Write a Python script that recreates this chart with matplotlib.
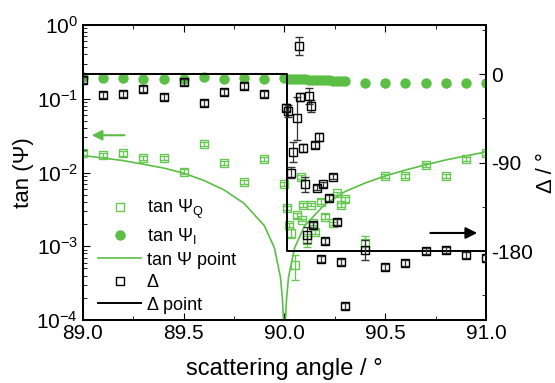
import numpy as np
import matplotlib.pyplot as plt
from matplotlib.ticker import MultipleLocator, FixedLocator, LogLocator, NullFormatter
from matplotlib.lines import Line2D

plt.rcParams['font.family'] = ['Liberation Sans', 'DejaVu Sans']
plt.rcParams['mathtext.fontset'] = 'custom'
plt.rcParams['mathtext.rm'] = 'Liberation Sans'
plt.rcParams['mathtext.it'] = 'Liberation Sans:italic'

GREEN = "#5CBF45"
GREEN_Q = "#66C852"

# tan Psi_I (filled circles, left axis)
psi_i_x = [89.0, 89.1, 89.2, 89.3, 89.4, 89.5, 89.6, 89.7, 89.8, 89.9,
           90.0, 90.02, 90.04, 90.06, 90.08, 90.10, 90.12, 90.14, 90.16, 90.18,
           90.20, 90.22, 90.24, 90.26, 90.28, 90.30,
           90.4, 90.5, 90.6, 90.7, 90.8, 90.9, 91.0]
psi_i_y = [0.197, 0.192, 0.190, 0.188, 0.186, 0.188, 0.200, 0.186, 0.190, 0.188,
           0.190, 0.188, 0.186, 0.185, 0.184, 0.183, 0.182, 0.181, 0.180, 0.179,
           0.178, 0.177, 0.176, 0.175, 0.174, 0.172,
           0.165, 0.164, 0.164, 0.164, 0.164, 0.164, 0.164]

# tan Psi_Q (open squares, left axis)
psi_q_x = [89.0, 89.1, 89.2, 89.3, 89.4, 89.5, 89.6, 89.7, 89.8, 89.9,
           90.00, 90.08, 90.26, 90.30, 90.28, 90.13, 90.18, 90.20, 90.24, 90.01,
           90.06, 90.09, 90.02, 90.03, 90.085, 90.11, 90.15, 90.14, 90.05,
           90.4, 90.5, 90.6, 90.7, 90.8, 90.9, 91.0]
psi_q_y = [0.0185, 0.0173, 0.0182, 0.0156, 0.0156, 0.0103, 0.0243, 0.0136, 0.0075, 0.0152,
           0.00698, 0.00869, 0.00522, 0.00433, 0.00362, 0.00368, 0.00402, 0.00252, 0.00205, 0.00327,
           0.00265, 0.00362, 0.00194, 0.00150, 0.00227, 0.00122, 0.00157, 0.00205, 0.000557,
           0.00112, 0.00897, 0.00897, 0.01264, 0.00905, 0.0151, 0.0185]
psi_q_err = [0.0012, 0.0011, 0.0012, 0.0010, 0.0010, 0.0007, 0.0016, 0.0009, 0.0005, 0.0010,
             0.0004, 0.0005, 0.0003, 0.0003, 0.0002, 0.0002, 0.0003, 0.0002, 0.0001, 0.0002,
             0.0002, 0.0002, 0.0001, 0.0002, 0.0001, 0.00025, 0.0001, 0.0001, 0.00021,
             0.00025, 0.0006, 0.0006, 0.0008, 0.0006, 0.0010, 0.0012]

# tan Psi point (theory line, left axis)
line_psi_x = [89.0, 89.2, 89.4, 89.5, 89.6, 89.7, 89.8, 89.9, 89.95, 89.98, 89.99,
              89.995, 90.0, 90.005, 90.01, 90.02, 90.05, 90.1, 90.2, 90.3, 90.4,
              90.5, 90.6, 90.7, 90.8, 90.9, 91.0]
line_psi_y = [0.0170, 0.0145, 0.0115, 0.0098, 0.0078, 0.0058, 0.0038, 0.0019, 0.00095, 0.00038, 0.00019,
              0.0001, 0.000001, 0.0001, 0.00019, 0.00038, 0.00095, 0.0019, 0.0037, 0.0055, 0.0072,
              0.0090, 0.0108, 0.0127, 0.0148, 0.0168, 0.0190]

# Delta (open squares, right axis)
delta_x = [89.0, 89.1, 89.2, 89.3, 89.4, 89.5, 89.6, 89.7, 89.8, 89.9,
           90.005, 90.015, 90.06, 90.077, 90.12, 90.13, 90.17, 90.15, 90.09, 90.04,
           90.03, 90.10, 90.16, 90.19, 90.24, 90.22, 90.26, 90.14, 90.11, 90.20,
           90.18, 90.28, 90.30, 90.07,
           90.4, 90.5, 90.6, 90.7, 90.8, 90.9, 91.0]
delta_y = [-5.9, -21.2, -20.2, -15.1, -23.2, -8.0, -29.3, -18.1, -12.0, -20.2,
           -33.9, -37.4, -44.9, -23.2, -22.2, -32.4, -63.6, -71.6, -74.8, -78.9,
           -100.0, -112.2, -115.3, -112.2, -104.1, -125.9, -150.7, -153.4, -163.6, -169.7,
           -188.3, -191.3, -235.8, 29.0,
           -178.8, -196.4, -191.7, -179.8, -178.8, -183.9, -187.0]
delta_err = [3, 3, 3, 3, 3, 3, 3, 3, 3, 3,
             4, 6, 22, 4, 8, 6, 4, 3, 4, 10,
             6, 8, 3, 3, 3, 3, 3, 3, 8, 3,
             3, 3, 3, 9,
             10, 3, 3, 3, 3, 3, 3]

# Delta point (theory line, right axis)
line_delta_x = [89.0, 90.01, 90.01, 91.0]
line_delta_y = [0, 0, -180, -180]

fig, ax = plt.subplots(figsize=(5.55, 3.83), dpi=100)
fig.subplots_adjust(left=0.1495, right=0.8757, bottom=0.1645, top=0.9347)
ax2 = ax.twinx()

ax.plot(line_psi_x, line_psi_y, color=GREEN, lw=1.2, zorder=2)
ax.errorbar(psi_q_x, psi_q_y, yerr=psi_q_err, fmt='s', ms=6.2, mfc='none',
            mec=GREEN_Q, mew=1.0, ecolor=GREEN_Q, elinewidth=0.9, capsize=2.8,
            capthick=0.9, zorder=3)
ax.plot(psi_i_x, psi_i_y, 'o', ms=7.5, color=GREEN, mec='none', zorder=4)

ax2.plot(line_delta_x, line_delta_y, color='black', lw=1.4, zorder=2)
ax2.errorbar(delta_x, delta_y, yerr=delta_err, fmt='s', ms=6.2, mfc='none',
             mec='black', mew=1.0, ecolor='#333333', elinewidth=0.9, capsize=2.8,
             capthick=0.9, zorder=3)

ax.set_xlim(89.0, 91.0)
ax.set_yscale('log')
ax.set_ylim(1e-4, 1e0)
ax2.set_ylim(-250, 50)

ax.xaxis.set_major_locator(MultipleLocator(0.5))
ax.xaxis.set_minor_locator(MultipleLocator(0.25))
ax.xaxis.set_major_formatter(plt.FuncFormatter(lambda v, p: f"{v:.1f}"))
ax.yaxis.set_major_locator(LogLocator(base=10, numticks=10))
ax.yaxis.set_minor_locator(LogLocator(base=10, subs=np.arange(2, 10), numticks=10))
ax.yaxis.set_minor_formatter(NullFormatter())
ax2.yaxis.set_major_locator(FixedLocator([0, -90, -180]))
ax2.yaxis.set_minor_locator(FixedLocator([45, -45, -135, -225]))
ax2.yaxis.set_major_formatter(plt.FuncFormatter(lambda v, p: f"{v:.0f}"))

ax.tick_params(axis='x', which='both', direction='in', top=True, labelsize=15, pad=3)
ax.tick_params(axis='x', which='major', length=5)
ax.tick_params(axis='x', which='minor', length=3)
ax.tick_params(axis='y', which='major', direction='in', length=5, labelsize=15)
ax.tick_params(axis='y', which='minor', direction='in', length=3)
ax2.tick_params(axis='y', which='major', direction='in', length=5, labelsize=15)
ax2.tick_params(axis='y', which='minor', direction='in', length=3)
for a in (ax, ax2):
    for s in a.spines.values():
        s.set_linewidth(1.3)

ax.set_xlabel("scattering angle / °", fontsize=17, labelpad=11)
ax.set_ylabel("tan (Ψ)", fontsize=16, labelpad=2)
ax2.set_ylabel("Δ / °", fontsize=16, labelpad=2)

ax.annotate("", xy=(89.03, 0.032), xytext=(89.22, 0.032),
            arrowprops=dict(arrowstyle='-|>', color=GREEN, lw=1.5, mutation_scale=15))
ax2.annotate("", xy=(90.97, -161.5), xytext=(90.71, -161.5),
             arrowprops=dict(arrowstyle='-|>', color='black', lw=1.5, mutation_scale=17))

handles = [
    Line2D([], [], ls='none', marker='s', ms=6.2, mfc='none', mec=GREEN_Q, mew=1.0),
    Line2D([], [], ls='none', marker='o', ms=7.5, color=GREEN, mec='none'),
    Line2D([], [], color=GREEN, lw=1.2),
    Line2D([], [], ls='none', marker='s', ms=6.2, mfc='none', mec='black', mew=1.0),
    Line2D([], [], color='black', lw=1.4),
]
labels = ["tan Ψ$_\\mathregular{Q}$", "tan Ψ$_\\mathregular{I}$", "tan Ψ point", "Δ", "Δ point"]
leg = ax2.legend(handles, labels, loc='lower left', bbox_to_anchor=(0.01, -0.015),
                 frameon=False, fontsize=13, handlelength=2.4, handletextpad=0.3,
                 labelspacing=0.3, borderaxespad=0.2)
leg.set_zorder(10)

fig.savefig("out.png", dpi=100)
